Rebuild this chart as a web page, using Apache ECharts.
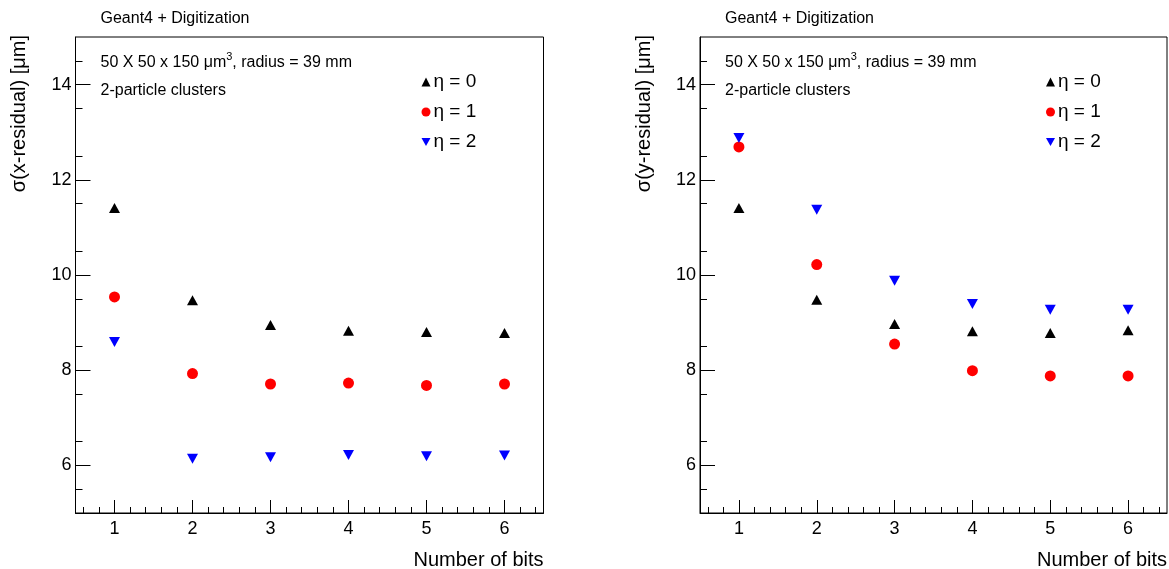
<!DOCTYPE html>
<html>
<head>
<meta charset="utf-8">
<script src="https://cdn.jsdelivr.net/npm/echarts@6/dist/echarts.min.js"></script>
<style>
html,body{margin:0;padding:0;background:#fff;}
#chart{width:1169px;height:569px;}
</style>
</head>
<body>
<div id="chart"></div>
<script>
// ---- data ----
const bits = [1, 2, 3, 4, 5, 6];
const xEta0 = [11.41, 9.47, 8.95, 8.83, 8.80, 8.78];
const xEta1 = [9.54, 7.93, 7.71, 7.73, 7.68, 7.71];
const xEta2 = [8.59, 6.14, 6.17, 6.22, 6.19, 6.21];
const yEta0 = [11.41, 9.48, 8.97, 8.82, 8.78, 8.84];
const yEta1 = [12.69, 10.22, 8.55, 7.99, 7.88, 7.88];
const yEta2 = [12.88, 11.37, 9.88, 9.39, 9.27, 9.27];
const seriesNames = ['η = 0', 'η = 1', 'η = 2'];
const xTickLabels = [1, 2, 3, 4, 5, 6];
const yTickLabels = [6, 8, 10, 12, 14];
const xTitle = 'Number of bits';
const yTitles = ['σ(x-residual) [μm]', 'σ(y-residual) [μm]'];
const topLabel = 'Geant4 + Digitization';
const infoLine1a = '50 X 50 x 150 μm';
const infoLine1sup = '3';
const infoLine1b = ', radius = 39 mm';
const infoLine2 = '2-particle clusters';

// ---- styling ----
const FONT = '"Liberation Sans", Arial, Helvetica, sans-serif';
const colors = ['#000000', '#ff0000', '#0000ff'];
const downTri = 'path://M0,0L10,0L5,9Z';
const symbols = ['triangle', 'circle', downTri];
const symbolSizes = [[11, 10], 11, [11, 10]];

const xMinor = [];
for (let v = 0.6; v < 6.45; v += 0.2) {
  const r = Math.round(v * 10) / 10;
  if (Math.abs(r - Math.round(r)) > 1e-6) xMinor.push(r);
}
const yMinor = [];
for (let v = 5.5; v < 15; v += 1) yMinor.push(v);

const grids = [
  { left: 75.5, top: 37, width: 468, height: 476 },
  { left: 700, top: 37, width: 467, height: 476 }
];

const chart = echarts.init(document.getElementById('chart'), null, { renderer: 'canvas' });

const xAxes = [], yAxes = [], series = [], graphics = [], legends = [];
grids.forEach((g, gi) => {
  xAxes.push({
    type: 'value', gridIndex: gi, min: 0.5, max: 6.5, position: 'bottom',
    axisLine: { show: true, onZero: false, lineStyle: { color: '#000', width: 1 } },
    axisTick: { show: true, inside: true, length: 13, customValues: xTickLabels, lineStyle: { color: '#000' } },
    axisLabel: { show: true, customValues: xTickLabels, color: '#000', fontSize: 18, fontFamily: FONT, margin: 7 },
    splitLine: { show: false }
  });
  xAxes.push({
    type: 'value', gridIndex: gi, min: 0.5, max: 6.5, position: 'bottom',
    axisLine: { show: false, onZero: false },
    axisTick: { show: true, inside: true, length: 6, customValues: xMinor, lineStyle: { color: '#000' } },
    axisLabel: { show: false, customValues: xMinor },
    splitLine: { show: false }
  });
  yAxes.push({
    type: 'value', gridIndex: gi, min: 5, max: 15, position: 'left',
    axisLine: { show: true, onZero: false, lineStyle: { color: '#000', width: 1 } },
    axisTick: { show: true, inside: true, length: 15, customValues: yTickLabels, lineStyle: { color: '#000' } },
    axisLabel: { show: true, customValues: yTickLabels, color: '#000', fontSize: 18, fontFamily: FONT, margin: 4 },
    splitLine: { show: false }
  });
  yAxes.push({
    type: 'value', gridIndex: gi, min: 5, max: 15, position: 'left',
    axisLine: { show: false, onZero: false },
    axisTick: { show: true, inside: true, length: 7, customValues: yMinor, lineStyle: { color: '#000' } },
    axisLabel: { show: false, customValues: yMinor },
    splitLine: { show: false }
  });

  const vals = gi === 0 ? [xEta0, xEta1, xEta2] : [yEta0, yEta1, yEta2];
  vals.forEach((arr, si) => {
    series.push({
      type: 'scatter', name: seriesNames[si],
      xAxisIndex: gi * 2, yAxisIndex: gi * 2,
      symbol: symbols[si], symbolSize: symbolSizes[si],
      itemStyle: { color: colors[si], opacity: 1 },
      data: bits.map((b, i) => [b, arr[i]]),
      z: 3 + si
    });
  });

  legends.push({
    orient: 'vertical',
    left: g.left + 341, top: 67.5,
    itemWidth: 9, itemHeight: 9, itemGap: 11,
    data: seriesNames.map((n, si) => ({ name: n, icon: symbols[si], itemStyle: { color: colors[si], opacity: 1 } })),
    textStyle: { color: '#000', fontSize: 19, fontFamily: FONT, padding: [0, 0, 0, -2] },
    selectedMode: false
  });

  const off = g.left;
  graphics.push(
    { type: 'text', x: off + 25, y: 19, style: { text: topLabel, fill: '#000', font: '16px ' + FONT, verticalAlign: 'middle' } },
    { type: 'text', x: off + 25, y: 61, style: {
        text: '{a|' + infoLine1a + '}{s|' + infoLine1sup + '}{a|' + infoLine1b + '}',
        verticalAlign: 'middle',
        rich: {
          a: { fill: '#000', fontSize: 16, fontFamily: FONT, lineHeight: 20, verticalAlign: 'bottom' },
          s: { fill: '#000', fontSize: 11, fontFamily: FONT, lineHeight: 20, verticalAlign: 'top', padding: [0, 0, 6, 0] }
        }
      } },
    { type: 'text', x: off + 25, y: 91, style: { text: infoLine2, fill: '#000', font: '16px ' + FONT, verticalAlign: 'middle' } },
    { type: 'text', x: off + g.width, y: 560, style: { text: xTitle, fill: '#000', font: '20px ' + FONT, align: 'right', verticalAlign: 'middle' } },
    { type: 'text', x: off - 56, y: 35, rotation: Math.PI / 2, style: { text: yTitles[gi], fill: '#000', font: '20px ' + FONT, align: 'right', verticalAlign: 'middle' } }
  );
});

chart.setOption({
  backgroundColor: '#fff',
  animation: false,
  grid: grids.map(g => Object.assign({ show: true, borderColor: '#000', borderWidth: 1, backgroundColor: 'transparent' }, g)),
  xAxis: xAxes,
  yAxis: yAxes,
  legend: legends,
  series: series,
  graphic: graphics
});
</script>
</body>
</html>
